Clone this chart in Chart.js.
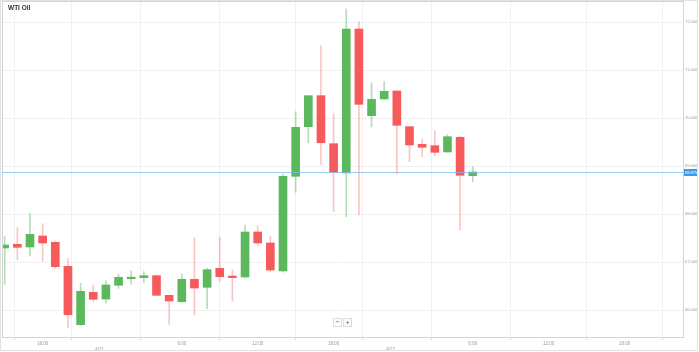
<!DOCTYPE html>
<html>
<head>
<meta charset="utf-8">
<script src="https://cdn.jsdelivr.net/npm/chart.js@4.4.1/dist/chart.umd.min.js"></script>
<style>
  html, body { margin: 0; padding: 0; background: #fff; overflow: hidden; }
  #wrap { position: relative; width: 699px; height: 352px; }
  .zoom-btns { position: absolute; left: 333px; top: 318px; display: flex; gap: 1px; }
  .zoom-btns span {
    display: block; width: 7px; height: 7px; border: 1px solid #ddd; background: #fafafa;
    font: bold 6px 'Liberation Sans', Arial, sans-serif; color: #666; line-height: 7px; text-align: center;
  }
</style>
</head>
<body>
<div id="wrap">
  <canvas id="chart"></canvas>
  <div class="zoom-btns"><span>−</span><span>+</span></div>
</div>
<script>
'use strict';

// hourly candles, 4/20 15:00 -> 4/22 6:00 (23:00 candles missing)
var times = ['15:00', '16:00', '17:00', '18:00', '19:00', '20:00', '21:00', '22:00',
  '0:00', '1:00', '2:00', '3:00', '4:00', '5:00', '6:00', '7:00', '8:00', '9:00', '10:00',
  '11:00', '12:00', '13:00', '14:00', '15:00', '16:00', '17:00', '18:00', '19:00', '20:00',
  '21:00', '22:00', '0:00', '1:00', '2:00', '3:00', '4:00', '5:00', '6:00'];

var openPrices = [67.292, 67.369, 67.313, 67.542, 67.410, 66.910, 65.694, 66.369, 66.229, 66.515,
  66.652, 66.673, 66.715, 66.306, 66.173, 66.640, 66.473, 66.869, 66.708, 66.688,
  67.625, 67.396, 66.813, 68.785, 69.819, 70.465, 69.465, 68.854, 71.854, 70.048,
  70.396, 70.563, 69.819, 69.452, 69.423, 69.292, 69.598, 68.798];
var highPrices = [67.527, 67.715, 68.015, 67.798, 67.438, 67.069, 66.556, 66.521, 66.610, 66.744,
  66.813, 66.798, 66.730, 66.310, 66.750, 67.500, 66.869, 67.521, 66.833, 67.771,
  67.750, 67.542, 68.833, 70.131, 70.465, 71.506, 70.090, 72.271, 72.006, 70.735,
  70.756, 70.563, 69.819, 69.563, 69.729, 69.652, 69.625, 68.985];
var lowPrices = [66.535, 67.042, 67.125, 67.015, 66.869, 65.631, 65.680, 66.173, 66.146, 66.452,
  66.535, 66.569, 66.290, 65.702, 66.167, 65.896, 66.027, 66.590, 66.188, 66.667,
  67.333, 66.792, 66.790, 68.452, 69.485, 69.035, 68.048, 67.944, 67.979, 69.813,
  70.396, 68.833, 69.090, 69.194, 69.215, 69.292, 67.667, 68.673];
var closePrices = [67.354, 67.306, 67.577, 67.396, 66.902, 65.902, 66.390, 66.223, 66.521, 66.681,
  66.681, 66.715, 66.306, 66.188, 66.640, 66.458, 66.840, 66.694, 66.673, 67.625,
  67.396, 66.833, 68.785, 69.806, 70.465, 69.485, 68.869, 71.854, 70.285, 70.390,
  70.556, 69.848, 69.438, 69.390, 69.285, 69.610, 68.806, 68.875];

// x axis ticks (candle index) and labels
var xTickPos = [3, 7.5, 14, 20, 26, 30.5, 37, 43, 49];
var xTickText = ['18:00', '4/21', '6:00', '12:00', '18:00', '4/22', '6:00', '12:00', '18:00'];
var yTickValues = [66, 67, 68, 69, 70, 71, 72];

var UP = '#5cb85c', DOWN = '#f65a5a';
var UP_WICK = 'rgba(92,184,92,0.45)', DOWN_WICK = 'rgba(246,90,90,0.35)';
var FONT = "'Liberation Sans', Arial, sans-serif";

function isUp(i) { return closePrices[i] >= openPrices[i]; }

// frame, title, last price line
var decorations = {
  id: 'decorations',
  afterDraw: function(chart) {
    var ctx = chart.ctx, a = chart.chartArea;
    ctx.save();
    // plot frame
    ctx.strokeStyle = '#d4d4d4';
    ctx.lineWidth = 1;
    ctx.strokeRect(Math.round(a.left) + 0.5, Math.round(a.top) + 0.5, Math.round(a.right - a.left), Math.round(a.bottom - a.top));
    // outer frame
    ctx.strokeStyle = '#e2e2e2';
    ctx.strokeRect(0.5, 0.5, chart.width - 2, chart.height - 2);
    // last price
    var last = closePrices[closePrices.length - 1];
    var y = Math.round(chart.scales.y.getPixelForValue(last)) + 0.5;
    ctx.strokeStyle = 'rgba(120,185,240,0.75)';
    ctx.beginPath();
    ctx.moveTo(a.left, y);
    ctx.lineTo(a.right, y);
    ctx.stroke();
    ctx.fillStyle = '#3d9be9';
    ctx.fillRect(a.right + 1, y - 3.5, 13, 7);
    ctx.fillStyle = '#fff';
    ctx.font = '4px ' + FONT;
    ctx.textBaseline = 'middle';
    ctx.textAlign = 'left';
    ctx.fillText(last.toFixed(3), a.right + 2, y);
    // title
    ctx.fillStyle = '#333';
    ctx.font = 'bold 6.5px ' + FONT;
    ctx.textBaseline = 'middle';
    ctx.fillText('WTI Oil', 8, 8.5);
    ctx.restore();
  }
};

new Chart(document.getElementById('chart'), {
  type: 'bar',
  data: {
    datasets: [{
      label: 'wick',
      data: times.map(function(t, i) { return { x: i, y: [lowPrices[i], highPrices[i]] }; }),
      backgroundColor: times.map(function(t, i) { return isUp(i) ? UP_WICK : DOWN_WICK; }),
      barThickness: 1,
      grouped: false,
      order: 2
    }, {
      label: 'body',
      data: times.map(function(t, i) { return { x: i, y: [openPrices[i], closePrices[i]] }; }),
      backgroundColor: times.map(function(t, i) { return isUp(i) ? UP : DOWN; }),
      borderWidth: 0,
      barThickness: 8,
      minBarLength: 1.5,
      grouped: false,
      order: 1
    }]
  },
  options: {
    responsive: true,
    maintainAspectRatio: false,
    animation: false,
    layout: {
      padding: { left: 2, top: 1, right: 0, bottom: 0 }
    },
    scales: {
      x: {
        type: 'linear',
        offset: false,
        min: -0.213,
        max: 53.62,
        afterBuildTicks: function(axis) {
          axis.ticks = xTickPos.map(function(v) { return { value: v }; });
        },
        afterFit: function(axis) {
          axis.height = 15;
          axis.paddingLeft = 0;
          axis.paddingRight = 0;
        },
        grid: {
          color: '#f1f1f1',
          tickLength: 3,
          tickColor: '#dcdcdc'
        },
        border: { color: '#bdbdbd' },
        ticks: {
          autoSkip: false,
          maxRotation: 0,
          padding: 1,
          color: '#999',
          font: { size: 4.5, family: FONT, lineHeight: 1.3 },
          callback: function(value, index) {
            var txt = xTickText[index];
            return txt.indexOf('/') > 0 ? ['', txt] : txt;
          }
        }
      },
      y: {
        position: 'right',
        min: 65.4375,
        max: 72.4375,
        afterBuildTicks: function(axis) {
          axis.ticks = yTickValues.map(function(v) { return { value: v }; });
        },
        afterFit: function(axis) {
          axis.width = 16;
          axis.paddingTop = 0;
          axis.paddingBottom = 0;
        },
        grid: {
          color: '#f1f1f1',
          drawTicks: false
        },
        border: { color: '#d4d4d4' },
        ticks: {
          padding: 2,
          color: '#999',
          font: { size: 4, family: FONT },
          callback: function(value) { return value.toFixed(3); }
        }
      }
    },
    plugins: {
      legend: { display: false },
      tooltip: { enabled: false },
      title: { display: false }
    }
  },
  plugins: [decorations]
});
</script>
</body>
</html>
